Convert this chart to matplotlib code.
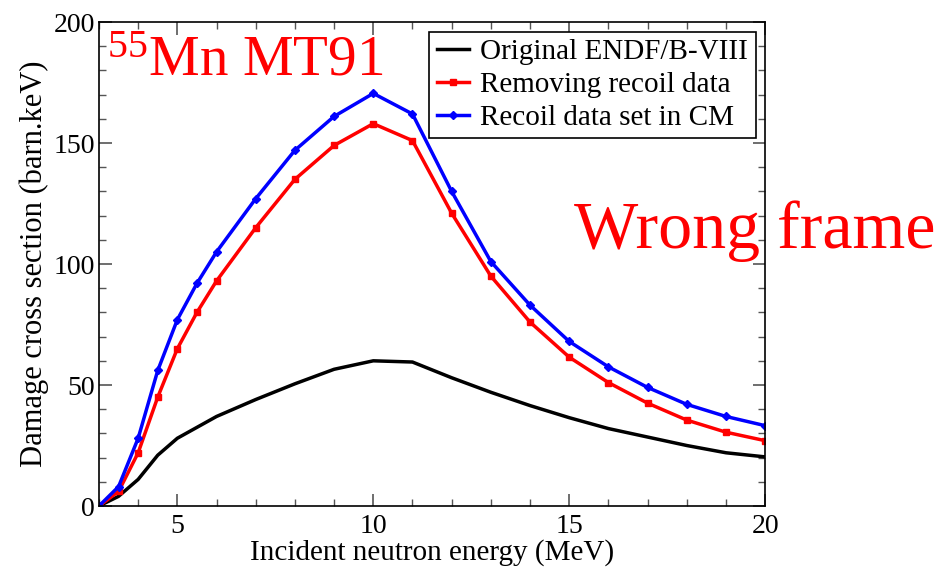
import numpy as np
import matplotlib.pyplot as plt
from matplotlib.ticker import MultipleLocator

# incident neutron energy (MeV)
energy = [3, 3.5, 4, 4.5, 5, 5.5, 6, 7, 8, 9, 10, 11, 12, 13, 14, 15, 16, 17, 18, 19, 20]
# damage cross section (barn.keV)
original = [0, 4, 11, 21, 28, 32.5, 37, 44, 50.5, 56.5, 60, 59.5, 53, 47, 41.5, 36.5, 32, 28.5, 25, 22, 20.3]
removing = [0, 6, 22, 45, 65, 80, 93, 115, 135, 149, 158, 151, 121, 95, 76, 61.5, 51, 42.5, 35.5, 30.5, 27]
cm_frame = [0, 8, 28, 56, 77, 92, 105, 127, 147, 161, 170.5, 162, 130, 101, 83, 68, 57.5, 49, 42, 37, 33.2]

plt.rcParams['font.family'] = ['Liberation Serif', 'DejaVu Serif']
plt.rcParams['mathtext.fontset'] = 'custom'
plt.rcParams['mathtext.rm'] = 'Liberation Serif'
plt.rcParams['mathtext.it'] = 'Liberation Serif'
plt.rcParams['mathtext.default'] = 'regular'

fig = plt.figure(figsize=(9.47, 5.69), dpi=100)
ax = fig.add_axes([0.1045, 0.1107, 0.7035, 0.8506])

ax.plot(energy, original, color='black', lw=2.5, label='Original ENDF/B-VIII')
ax.plot(energy, removing, color='red', lw=2.5, marker='s', ms=5, label='Removing recoil data')
ax.plot(energy, cm_frame, color='blue', lw=2.5, marker='D', ms=4, label='Recoil data set in CM')

ax.set_xlim(3, 20)
ax.set_ylim(0, 200)
ax.xaxis.set_minor_locator(MultipleLocator(1))
ax.yaxis.set_minor_locator(MultipleLocator(10))
ax.set_xticks([5, 10, 15, 20])
ax.set_yticks([0, 50, 100, 150, 200])
ax.tick_params(which='both', direction='in', top=True, right=True, labelsize=20, color='#555555')
ax.tick_params(which='major', length=9, width=1.2)
ax.tick_params(which='minor', length=5, width=1.0)
ax.tick_params(axis='x', pad=6)
ax.tick_params(axis='y', pad=3)
for s in ax.spines.values():
    s.set_linewidth(1.2)

ax.set_xlabel('Incident neutron energy (MeV)', fontsize=21, labelpad=0)
ax.set_ylabel('Damage cross section (barn.keV)', fontsize=22, labelpad=3)

leg = ax.legend(loc='upper right', fontsize=21, fancybox=False, edgecolor='black',
                borderaxespad=0.33, handlelength=1.1, handletextpad=0.4, labelspacing=0.22,
                borderpad=0.25, framealpha=1)
leg.get_frame().set_linewidth(1.2)

fig.text(107 / 947, 1 - 75 / 569, r'$^{55}$Mn MT91', color='red', fontsize=41,
         ha='left', va='baseline')
fig.text(935 / 947, 1 - 248 / 569, 'Wrong frame', color='red', fontsize=49,
         ha='right', va='baseline')

fig.savefig('out.png', dpi=100)
